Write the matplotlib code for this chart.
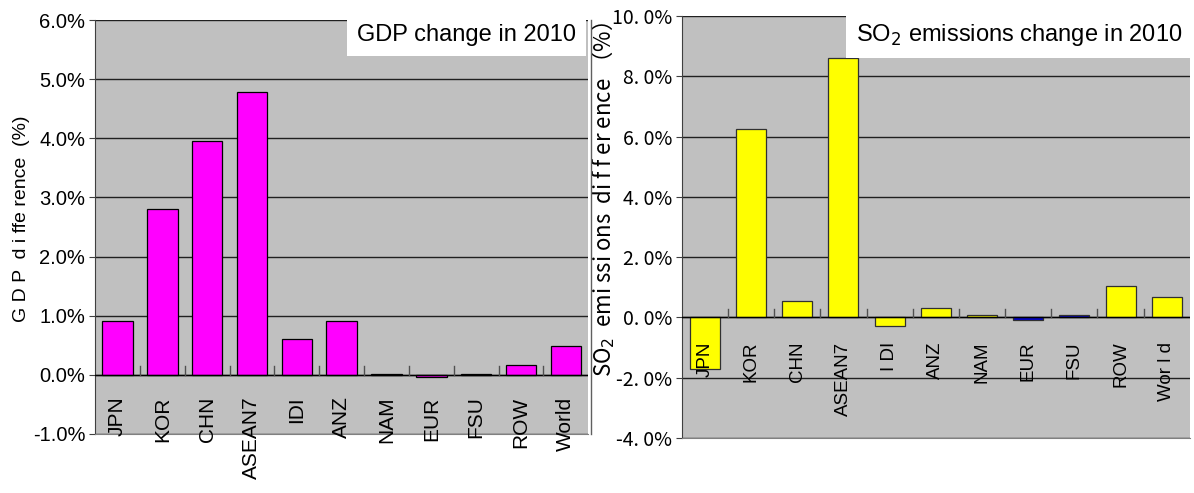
import matplotlib
matplotlib.use("Agg")
import matplotlib.pyplot as plt
from matplotlib.ticker import FuncFormatter
from matplotlib.lines import Line2D
import numpy as np

regions = ["JPN", "KOR", "CHN", "ASEAN7", "IDI", "ANZ", "NAM", "EUR", "FSU", "ROW", "World"]
gdp_labels = ["JPN", "KOR", "CHN", "ASEAN7", "IDI", "ANZ", "NAM", "EUR", "FSU", "ROW", "World"]
so2_labels = ["JPN", "KOR", "CHN", "ASEAN7", "I DI", "ANZ", "NAM", "EUR", "FSU", "ROW", "Wor l d"]

gdp_change = [0.91, 2.81, 3.96, 4.78, 0.61, 0.91, 0.02, -0.04, 0.01, 0.17, 0.49]
so2_change = [-1.72, 6.25, 0.54, 8.62, -0.28, 0.32, 0.08, -0.10, 0.08, 1.05, 0.67]

gdp_colors = ["#FF00FF"] * 11
so2_colors = ["#FFFF00"] * 7 + ["#0000CC", "#0000CC"] + ["#FFFF00"] * 2

SANS = ["Liberation Sans", "DejaVu Sans"]
GOTHIC = ["Noto Sans CJK JP", "DejaVu Sans"]
BG = "#C0C0C0"

fig = plt.figure(figsize=(11.94, 4.93), dpi=100)
ax1 = fig.add_axes([0.0796, 0.120, 0.413, 0.839])
ax2 = fig.add_axes([0.571, 0.1116, 0.4255, 0.856])


def style_axis(ax, lo, hi, step, fmt, tick_font, tick_size):
    ax.set_facecolor(BG)
    ax.set_ylim(lo, hi)
    ax.set_xlim(-0.5, len(regions) - 0.5)
    ax.set_yticks(np.arange(lo, hi + step / 2, step))
    ax.yaxis.set_major_formatter(FuncFormatter(fmt))
    ax.grid(axis="y", color="#202020", lw=1.0)
    ax.set_axisbelow(True)
    ax.set_xticks([])
    ax.tick_params(axis="y", length=4, color="#404040", pad=3)
    for lab in ax.get_yticklabels():
        lab.set_family(tick_font)
        lab.set_fontsize(tick_size)
    for s in ["top", "right"]:
        ax.spines[s].set_visible(False)
    ax.spines["left"].set_color("#404040")
    ax.spines["bottom"].set_color("#808080")
    # zero line with category separators
    ax.axhline(0, color="black", lw=1.0, zorder=3)
    tick_h = (hi - lo) * 0.02
    for b in np.arange(0.5, len(regions) - 0.5, 1.0):
        ax.plot([b, b], [0, tick_h], color="#505050", lw=1.0, zorder=3)


# --- GDP panel ---
style_axis(ax1, -1.0, 6.0, 1.0, lambda v, p: f"{v:.1f}%", SANS, 14.5)
x = np.arange(len(regions))
ax1.bar(x, gdp_change, width=0.68, color=gdp_colors, edgecolor="black", lw=0.9, zorder=2)
for i, lab in enumerate(gdp_labels):
    ax1.text(i, -0.37, lab, rotation=90, ha="center", va="top", fontsize=15,
             family=SANS, clip_on=False)
ax1.set_ylabel("G D P  d i ffe rence  (%)", fontsize=14, family=SANS)
ax1.yaxis.set_label_coords(-0.132, 0.52)
ax1.text(0.975, 0.99, "GDP change in 2010", transform=ax1.transAxes, ha="right", va="top",
         fontsize=17, family=SANS, zorder=5,
         bbox=dict(facecolor="white", edgecolor="none", pad=7))

# --- SO2 panel ---
style_axis(ax2, -4.0, 10.0, 2.0, lambda v, p: f"{v:.1f}%".replace(".", ". "), GOTHIC, 14)
ax2.bar(x, so2_change, width=0.65, color=so2_colors, edgecolor="#303030", lw=0.9, zorder=2)
for i, lab in enumerate(so2_labels):
    ax2.text(i, -0.8, lab, rotation=90, ha="center", va="top", fontsize=13.5,
             family=SANS, clip_on=False, zorder=4)
ax2.set_ylabel("SO$_2$  emi ssi ons  di f f er ence （%）", fontsize=16, family=GOTHIC)
ax2.yaxis.set_label_coords(-0.127, 0.566)
ax2.text(0.985, 0.985, "SO$_2$ emissions change in 2010", transform=ax2.transAxes,
         ha="right", va="top", fontsize=17, family=SANS, zorder=5,
         bbox=dict(facecolor="white", edgecolor="none", pad=7))

fig.add_artist(Line2D([0.495, 0.495], [0.12, 0.96], transform=fig.transFigure,
                      color="#606060", lw=1.0))

fig.savefig("out.png", dpi=100, facecolor="white")
